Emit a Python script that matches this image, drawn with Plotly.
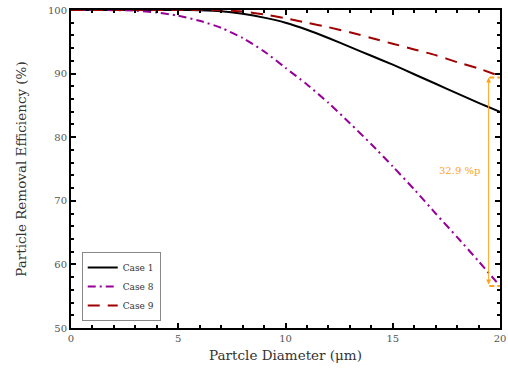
import plotly.graph_objects as go

diameter = list(range(0, 21))
case1 = [100, 100, 100, 100, 100, 100, 99.95, 99.8, 99.4, 98.8, 98.0, 96.9, 95.6,
         94.2, 92.8, 91.4, 89.9, 88.4, 86.9, 85.4, 84.0]
case8 = [100, 100, 99.98, 99.9, 99.6, 99.1, 98.3, 97.2, 95.6, 93.5, 90.9, 88.3,
         85.4, 82.2, 78.9, 75.4, 71.8, 68.0, 64.3, 60.5, 56.6]
case9 = [100, 100, 100, 100, 100, 100, 100, 99.95, 99.75, 99.3, 98.7, 98.0, 97.3,
         96.5, 95.6, 94.7, 93.8, 92.9, 91.8, 90.8, 89.6]

gap_x = 19.47
gap_top = 89.4
gap_bottom = 56.6
gap_label = "32.9 %p"

FONT = "DejaVu Serif"
ORANGE = "#FFA31A"

fig = go.Figure()
fig.add_trace(go.Scatter(x=diameter, y=case1, mode="lines", name="Case 1",
                         line=dict(color="black", width=2, shape="spline", smoothing=0.6)))
fig.add_trace(go.Scatter(x=diameter, y=case8, mode="lines", name="Case 8",
                         line=dict(color="#960096", width=2, dash="8px,4px,2px,4px", shape="spline", smoothing=0.6)))
fig.add_trace(go.Scatter(x=diameter, y=case9, mode="lines", name="Case 9",
                         line=dict(color="#A00000", width=2, dash="12px,8px", shape="spline", smoothing=0.6)))

# orange dashed markers at the two ends
for yv in (gap_top, gap_bottom):
    fig.add_shape(type="line", x0=19.5, x1=20, y0=yv, y1=yv, xref="x", yref="y",
                  line=dict(color=ORANGE, width=2, dash="5px,3px"))

fig.add_annotation(x=gap_x, y=gap_top, ax=gap_x, ay=gap_bottom, xref="x", yref="y",
                   axref="x", ayref="y", showarrow=True, arrowhead=2, arrowside="end+start",
                   arrowsize=1, arrowwidth=1, arrowcolor=ORANGE, text="")
fig.add_annotation(x=18.1, y=74.8, xref="x", yref="y", text=gap_label, showarrow=False,
                   font=dict(family=FONT, size=10, color=ORANGE))

axis_common = dict(showline=True, linecolor="black", linewidth=2, mirror="allticks",
                   ticks="inside", ticklen=5, tickwidth=2, tickcolor="black",
                   showgrid=False, zeroline=False, automargin=False,
                   tickfont=dict(family=FONT, size=10, color="#555"),
                   minor=dict(ticks="inside", ticklen=3, tickwidth=1.5, tickcolor="black"))

fig.update_xaxes(range=[0, 20], dtick=5, title=dict(text="Partcle Diameter (μm)",
                 font=dict(family=FONT, size=13.5, color="#333"), standoff=8), **axis_common)
fig.update_yaxes(range=[50, 100], dtick=10, title=dict(text="Particle Removal Efficiency (%)",
                 font=dict(family=FONT, size=13.5, color="#333"), standoff=18), **axis_common)

fig.update_layout(
    width=508, height=374,
    margin=dict(l=71, r=8, t=10, b=46, autoexpand=False),
    plot_bgcolor="white", paper_bgcolor="white",
    font=dict(family=FONT),
    legend=dict(x=0.025, y=0.022, xanchor="left", yanchor="bottom",
                bordercolor="#888", borderwidth=1, bgcolor="white",
                font=dict(family=FONT, size=9, color="#333"),
                tracegroupgap=0, itemwidth=30),
)

fig.write_html("out.html")
